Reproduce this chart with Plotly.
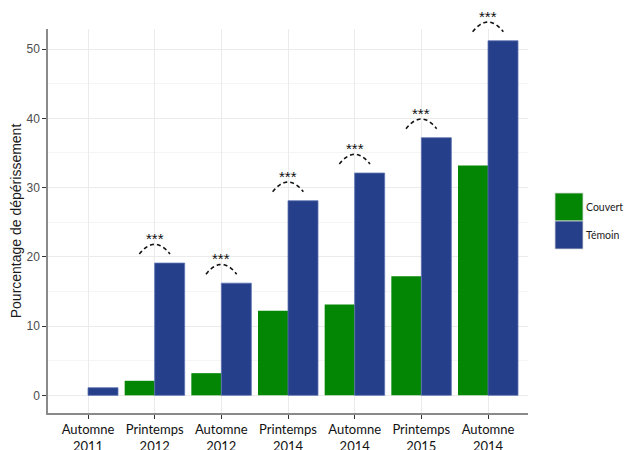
import numpy as np
import plotly.graph_objects as go

categories = ["Automne<br>2011", "Printemps<br>2012", "Automne<br>2012", "Printemps<br>2014",
              "Automne<br>2014", "Printemps<br>2015", "Automne<br>2014"]
couvert = [0, 2.1, 3.2, 12.2, 13.1, 17.2, 33.2]
temoin = [1.1, 19.1, 16.2, 28.1, 32.1, 37.2, 51.2]
signif = ["", "***", "***", "***", "***", "***", "***"]

GREEN = "#038603"
BLUE = "#253f8a"

xpos = list(range(1, len(categories) + 1))
XR = [0.4, 7.6]
YR = [-2.55, 52.9]

fig = go.Figure()
fig.add_trace(go.Bar(x=xpos, y=couvert, name="Couvert", marker=dict(color=GREEN, line=dict(width=0)), showlegend=False))
fig.add_trace(go.Bar(x=xpos, y=temoin, name="Témoin", marker=dict(color=BLUE, line=dict(color="#5d72b3", width=0.8)), showlegend=False))

# data -> paper fraction through the same linear axis scales (so arcs may extend above the plot)
def xp(v):
    return (v - XR[0]) / (XR[1] - XR[0])
def yp(v):
    return (v - YR[0]) / (YR[1] - YR[0])

# significance arcs and stars
half = 0.23
for xc, t, s in zip(xpos, temoin, signif):
    if not s:
        continue
    dx = np.linspace(-half, half, 31)
    base = t + 1.3
    hgt = 1.4
    ys = base + hgt * (1 - (dx / half) ** 2)
    pts = [f"{xp(xc + a):.5f},{yp(b):.5f}" for a, b in zip(dx, ys)]
    path = "M " + " L ".join(pts)
    fig.add_shape(type="path", xref="paper", yref="paper", path=path,
                  line=dict(color="#111111", width=1.6, dash="4px,3px"), layer="above")
    fig.add_annotation(xref="x", yref="paper", x=xc, y=yp(t + 3.55), text=s, showarrow=False,
                       xanchor="center", yanchor="middle",
                       font=dict(family="Liberation Sans, Arial", size=15, color="#111111"))

# page offset (browser body margin)
OFF = 8
W, H = 632 - OFF, 450 - OFF
ml, mr, mt, mb = 48 - OFF, 104, 29 - OFF, 37
pw, ph = W - ml - mr, H - mt - mb
def px2paper_x(px):
    return (px - OFF - ml) / pw
def px2paper_y(py):
    return 1 - (py - OFF - mt) / ph

# custom legend
legend_items = [("Couvert", GREEN), ("Témoin", BLUE)]
lx0, lx1 = 555, 583
ly0 = 193
kh = 28
for i, (name, col) in enumerate(legend_items):
    y0p = ly0 + i * kh
    fig.add_shape(type="rect", xref="paper", yref="paper",
                  x0=px2paper_x(lx0), x1=px2paper_x(lx1),
                  y0=px2paper_y(y0p + kh), y1=px2paper_y(y0p),
                  fillcolor=col, line=dict(color="#d9d9d9", width=0.8), layer="above")
    fig.add_annotation(xref="paper", yref="paper", x=px2paper_x(lx1 + 1), y=px2paper_y(y0p + kh / 2),
                       text=name, showarrow=False, xanchor="left", yanchor="middle",
                       font=dict(family="Lato, Open Sans, sans-serif", size=10.5, color="#1a1a1a"))

fig.update_layout(
    width=W, height=H,
    margin=dict(l=ml, r=mr, t=mt, b=mb, autoexpand=False),
    paper_bgcolor="white", plot_bgcolor="white",
    barmode="group", bargap=0.1, bargroupgap=0,
    showlegend=False,
)
fig.update_xaxes(
    range=XR, tickmode="array", tickvals=xpos, ticktext=categories,
    automargin=False,
    showgrid=True, gridcolor="#ebebeb", gridwidth=1,
    showline=True, linecolor="#8a8a8a", linewidth=1.5,
    ticks="outside", ticklen=4, tickcolor="#333333", tickwidth=1.2,
    tickfont=dict(family="Lato, Open Sans, sans-serif", size=13, color="#111111"),
    zeroline=False,
)
fig.update_yaxes(
    range=YR, tickmode="array", tickvals=[0, 10, 20, 30, 40, 50],
    automargin=False,
    showgrid=True, gridcolor="#ebebeb", gridwidth=1.2,
    minor=dict(showgrid=True, tickvals=[5, 15, 25, 35, 45], gridcolor="#f5f5f5", gridwidth=1),
    showline=True, linecolor="#8a8a8a", linewidth=1.5,
    ticks="outside", ticklen=4, tickcolor="#333333", tickwidth=1.2,
    tickfont=dict(family="Liberation Sans, Arial", size=12, color="#4d4d4d"),
    title=dict(text="Pourcentage de dépérissement", standoff=6,
               font=dict(family="Liberation Sans, Arial", size=14, color="#1a1a1a")),
    zeroline=False,
)

fig.write_html("out.html")
